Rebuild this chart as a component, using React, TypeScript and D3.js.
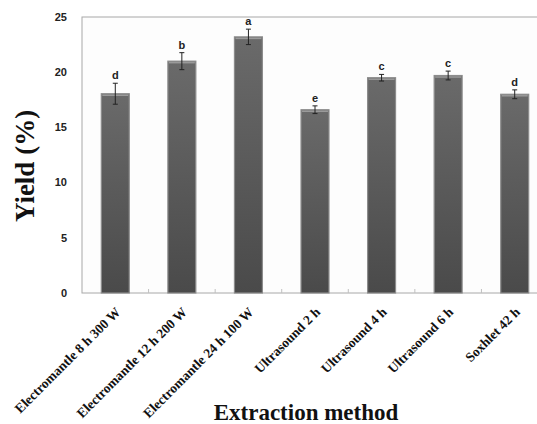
import React from 'react';
import * as d3 from 'd3';

const methods = [
  'Electromantle 8 h 300 W',
  'Electromantle 12 h 200 W',
  'Electromantle 24 h 100 W',
  'Ultrasound 2 h',
  'Ultrasound 4 h',
  'Ultrasound 6 h',
  'Soxhlet 42 h',
];
const yieldValues = [18.05, 21.0, 23.2, 16.6, 19.5, 19.7, 18.0];
const yieldErrors = [0.95, 0.77, 0.7, 0.35, 0.3, 0.4, 0.4];
const groupLetters = ['d', 'b', 'a', 'e', 'c', 'c', 'd'];
const yTicks = [0, 5, 10, 15, 20, 25];

const W = 537;
const H = 424;
const M = { left: 82, top: 17, right: 548, bottom: 293 };

export default function App() {
  const x = d3.scaleBand<string>().domain(methods).range([M.left, M.right]).paddingInner(0.58).paddingOuter(0.29);
  const y = d3.scaleLinear().domain([0, 25]).range([M.bottom, M.top]);
  const bw = x.bandwidth();
  const boundaries = d3.range(1, methods.length).map(i => M.left + i * (M.right - M.left) / methods.length);

  return (
    <svg width={W} height={H} style={{ position: 'absolute', left: 0, top: 0, background: '#fff' }}>
      <defs>
        <linearGradient id="barGrad" x1="0" x2="0" y1="0" y2="1">
          <stop offset="0" stopColor="#6a6a6a" />
          <stop offset="1" stopColor="#4a4a4a" />
        </linearGradient>
      </defs>
      <rect x={M.left} y={M.top} width={M.right - M.left} height={M.bottom - M.top} fill="#fdfdfd" stroke="#a8a8a8" strokeWidth={1} />
      {boundaries.map((b, i) => (
        <line key={i} x1={b} x2={b} y1={M.bottom} y2={M.bottom - 4} stroke="#c0c0c0" />
      ))}
      {yTicks.map(t => (
        <text key={t} x={67} y={y(t)} dy="0.35em" textAnchor="end" fontFamily="Liberation Sans, Arial, sans-serif" fontWeight="bold" fontSize={11} fill="#222">
          {t}
        </text>
      ))}
      {methods.map((m, i) => {
        const bx = x(m) as number;
        const cx = bx + bw / 2;
        const top = y(yieldValues[i]);
        const eTop = y(yieldValues[i] + yieldErrors[i]);
        const eBot = y(yieldValues[i] - yieldErrors[i]);
        return (
          <g key={m}>
            <rect x={bx} y={top} width={bw} height={M.bottom - top} fill="url(#barGrad)" stroke="#8c8c8c" strokeWidth={1.2} />
            <line x1={bx + 1} x2={bx + bw - 1} y1={top + 1.5} y2={top + 1.5} stroke="#9a9a9a" strokeWidth={1.5} />
            <line x1={cx} x2={cx} y1={eTop} y2={eBot} stroke="#222" strokeWidth={1} />
            <line x1={cx - 2.5} x2={cx + 2.5} y1={eTop} y2={eTop} stroke="#222" strokeWidth={1} />
            <line x1={cx - 2.5} x2={cx + 2.5} y1={eBot} y2={eBot} stroke="#222" strokeWidth={1} />
            <text x={cx} y={eTop - 4} textAnchor="middle" fontFamily="Liberation Sans, Arial, sans-serif" fontWeight="bold" fontSize={11} fill="#222">
              {groupLetters[i]}
            </text>
            <text
              transform={`translate(${cx + 6},${M.bottom + 20}) rotate(-45)`}
              textAnchor="end"
              fontFamily="Liberation Serif, Times New Roman, serif"
              fontWeight="bold"
              fontSize={13.5}
              fill="#111"
            >
              {m}
            </text>
          </g>
        );
      })}
      <text transform={`translate(34,166) rotate(-90)`} textAnchor="middle" fontFamily="Liberation Serif, Times New Roman, serif" fontWeight="bold" fontSize={27} fill="#111">
        Yield (%)
      </text>
      <text x={306} y={420} textAnchor="middle" fontFamily="Liberation Serif, Times New Roman, serif" fontWeight="bold" fontSize={23} fill="#111">
        Extraction method
      </text>
    </svg>
  );
}
